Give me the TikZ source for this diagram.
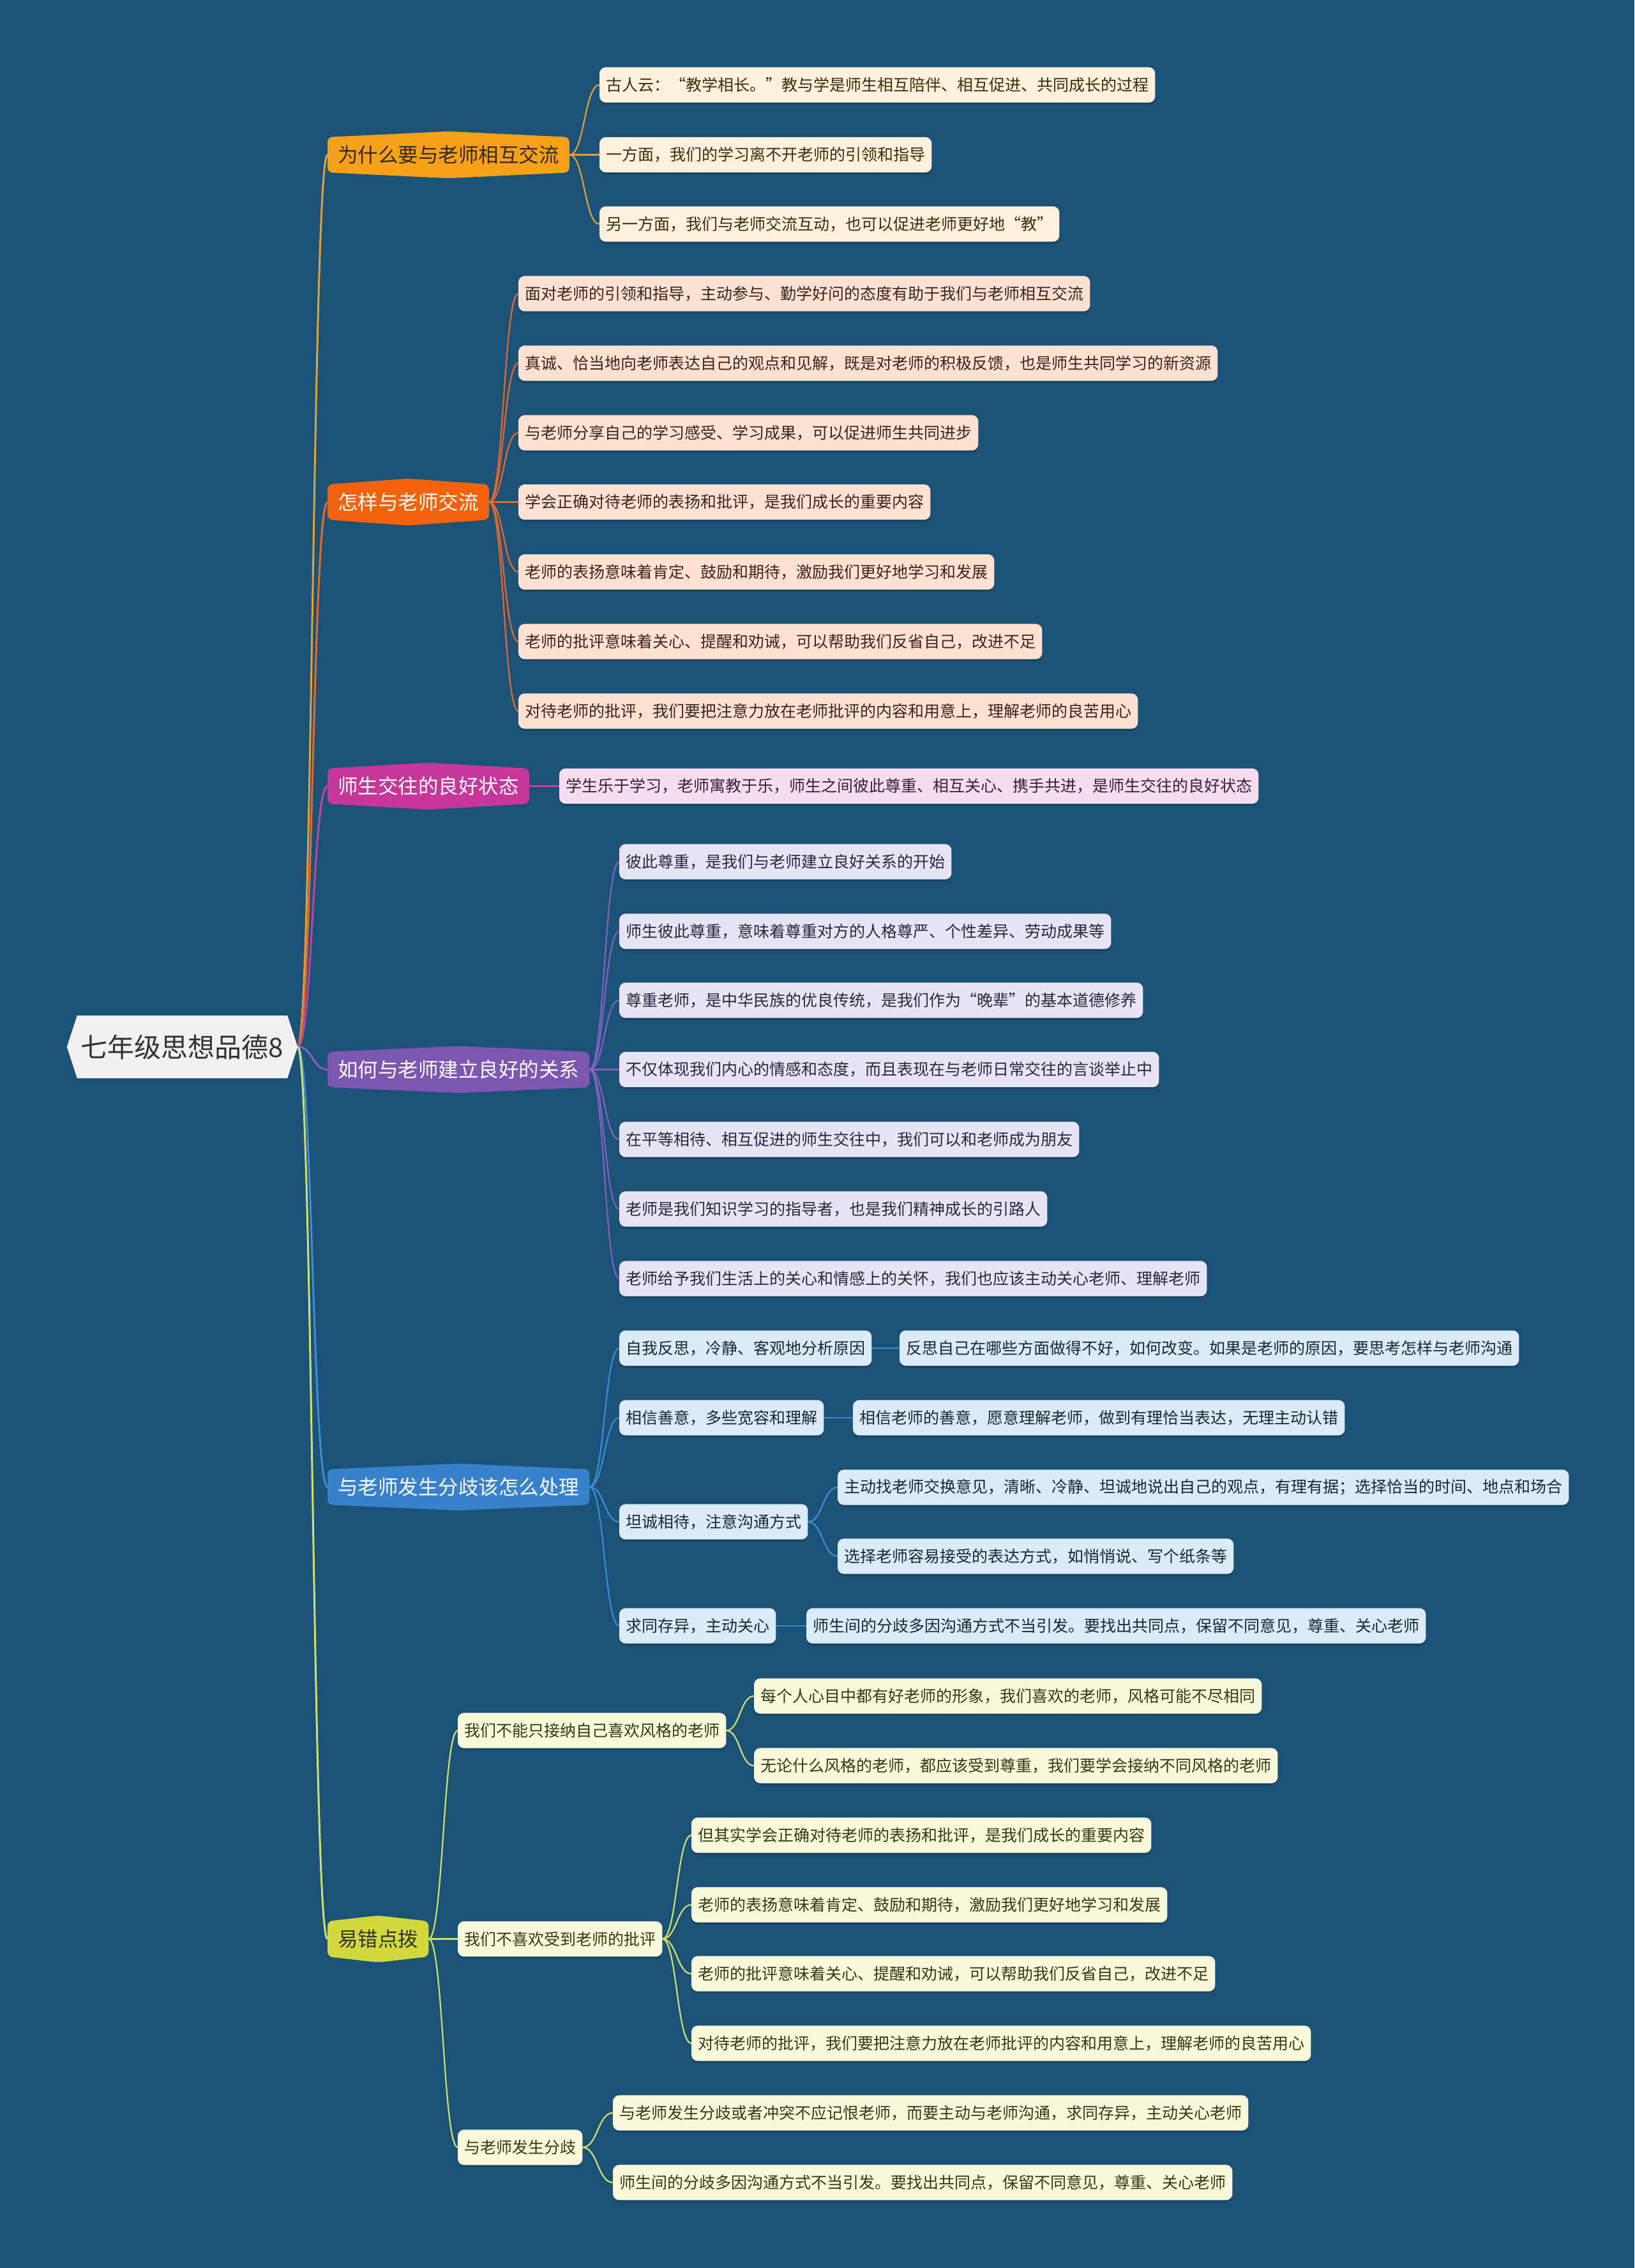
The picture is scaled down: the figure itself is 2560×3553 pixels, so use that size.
\documentclass[tikz,border=0pt]{standalone}
\usepackage{fontspec}
\newfontfamily\cjk{Noto Sans CJK SC}
\usetikzlibrary{calc}
\pgfdeclarelayer{bg}\pgfdeclarelayer{lines}\pgfdeclarelayer{boxes}
\pgfsetlayers{bg,lines,boxes,main}
\definecolor{pagebg}{HTML}{1A5377}
\definecolor{rootf}{HTML}{F1F1F1}
\definecolor{roott}{HTML}{333333}
% branch fills
\definecolor{bfA}{HTML}{F7A11A}\definecolor{bfB}{HTML}{F4630B}\definecolor{bfC}{HTML}{C7379A}
\definecolor{bfD}{HTML}{7D56B1}\definecolor{bfE}{HTML}{3882CB}\definecolor{bfF}{HTML}{D3D93C}
% line colours
\definecolor{lnA}{HTML}{E2A232}\definecolor{lnB}{HTML}{E8682A}\definecolor{lnC}{HTML}{BD45A0}
\definecolor{lnD}{HTML}{8660BF}\definecolor{lnE}{HTML}{3F8BD6}\definecolor{lnF}{HTML}{D4E065}
% leaf fills
\definecolor{lfA}{HTML}{FEF1DB}\definecolor{lfB}{HTML}{FDE2D2}\definecolor{lfC}{HTML}{F7DDF0}
\definecolor{lfD}{HTML}{E9E4F4}\definecolor{lfE}{HTML}{DDEBF7}\definecolor{lfF}{HTML}{F9F8DB}
% leaf text
\definecolor{ltA}{HTML}{3F2C0C}\definecolor{ltB}{HTML}{3B2418}\definecolor{ltC}{HTML}{3A2035}
\definecolor{ltD}{HTML}{2A2540}\definecolor{ltE}{HTML}{16283A}\definecolor{ltF}{HTML}{383812}
\definecolor{darkt}{HTML}{33291A}

\tikzset{
  lf/.style={anchor=west, minimum height=55, inner xsep=10, inner ysep=0,
    font=\cjk\fontsize{25}{30}\selectfont},
  br/.style={anchor=west, minimum height=55, inner xsep=16, inner ysep=0,
    font=\cjk\fontsize{31.5}{36}\selectfont},
}

\newcommand\leafnode[6]{% name, x, y, fill, text colour, text
  \node[lf, text=#5] (#1) at (#2,#3) {#6};
  \begin{pgfonlayer}{boxes}
    \fill[black, opacity=.18, rounded corners=10] ($(#1.south west)+(0,3)$) rectangle ($(#1.north east)+(0,3)$);
    \fill[#4, rounded corners=10] (#1.south west) rectangle (#1.north east);
  \end{pgfonlayer}}

\newcommand\branchnode[6]{% name, x, y, fill, text colour, text
  \node[br, text=#5] (#1) at (#2,#3) {#6};
  \begin{pgfonlayer}{boxes}
    \fill[#4, rounded corners=8] (#1.south west) -- (#1.north west) -- ($(#1.north)+(0,-9)$)
      -- (#1.north east) -- (#1.south east) -- ($(#1.south)+(0,9)$) -- cycle;
  \end{pgfonlayer}}

\newcommand\conn[4]{% colour, width, from, to
  \begin{pgfonlayer}{lines}
    \path ($(#3)!0.5!(#4)$) coordinate (cmid);
    \draw[#1, line width=#2] (#3) .. controls (cmid |- #3) and (cmid |- #4) .. (#4);
  \end{pgfonlayer}}

\begin{document}
\begin{tikzpicture}[x=1pt,y=-1pt]
\begin{pgfonlayer}{bg}
  \fill[pagebg] (0,0) rectangle (2560,3553);
\end{pgfonlayer}
\useasboundingbox (0,0) rectangle (2560,3553);

% root
\node[font=\cjk\fontsize{42}{48}\selectfont, text=roott, minimum width=329, minimum height=98, inner sep=0] (root) at (285.5,1640) {七年级思想品德8};
\begin{pgfonlayer}{boxes}
  \fill[rootf] ($(root.west)+(-16,0)$) -- (root.north west) -- (root.north east) -- ($(root.east)+(16,0)$) -- (root.south east) -- (root.south west) -- cycle;
\end{pgfonlayer}
\coordinate (rp) at ($(root.east)+(16,0)$);

% main branches
\branchnode{bA}{513}{242.5}{bfA}{darkt}{为什么要与老师相互交流}
\branchnode{bB}{513}{786.5}{bfB}{white}{怎样与老师交流}
\branchnode{bC}{513}{1231.5}{bfC}{white}{师生交往的良好状态}
\branchnode{bD}{513}{1675.5}{bfD}{white}{如何与老师建立良好的关系}
\branchnode{bE}{513}{2329.5}{bfE}{white}{与老师发生分歧该怎么处理}
\branchnode{bF}{513}{3037.5}{bfF}{roott}{易错点拨}

\conn{lnA}{3}{rp}{bA.west}
\conn{lnB}{3}{rp}{bB.west}
\conn{lnC}{3}{rp}{bC.west}
\conn{lnD}{3}{rp}{bD.west}
\conn{lnE}{3}{rp}{bE.west}
\conn{lnF}{3}{rp}{bF.west}

% branch A
\leafnode{a1}{939}{133}{lfA}{ltA}{古人云：“教学相长。”教与学是师生相互陪伴、相互促进、共同成长的过程}
\leafnode{a2}{939}{242.5}{lfA}{ltA}{一方面，我们的学习离不开老师的引领和指导}
\leafnode{a3}{939}{351}{lfA}{ltA}{另一方面，我们与老师交流互动，也可以促进老师更好地“教”}
\foreach \n in {a1,a2,a3} {\conn{lnA}{2.2}{bA.east}{\n.west}}

% branch B
\leafnode{b1}{812}{460}{lfB}{ltB}{面对老师的引领和指导，主动参与、勤学好问的态度有助于我们与老师相互交流}
\leafnode{b2}{812}{569}{lfB}{ltB}{真诚、恰当地向老师表达自己的观点和见解，既是对老师的积极反馈，也是师生共同学习的新资源}
\leafnode{b3}{812}{678}{lfB}{ltB}{与老师分享自己的学习感受、学习成果，可以促进师生共同进步}
\leafnode{b4}{812}{786.5}{lfB}{ltB}{学会正确对待老师的表扬和批评，是我们成长的重要内容}
\leafnode{b5}{812}{896}{lfB}{ltB}{老师的表扬意味着肯定、鼓励和期待，激励我们更好地学习和发展}
\leafnode{b6}{812}{1005}{lfB}{ltB}{老师的批评意味着关心、提醒和劝诫，可以帮助我们反省自己，改进不足}
\leafnode{b7}{812}{1114}{lfB}{ltB}{对待老师的批评，我们要把注意力放在老师批评的内容和用意上，理解老师的良苦用心}
\foreach \n in {b1,b2,b3,b4,b5,b6,b7} {\conn{lnB}{2.2}{bB.east}{\n.west}}

% branch C
\leafnode{c1}{876}{1231.5}{lfC}{ltC}{学生乐于学习，老师寓教于乐，师生之间彼此尊重、相互关心、携手共进，是师生交往的良好状态}
\conn{lnC}{2.2}{bC.east}{c1.west}

% branch D
\leafnode{d1}{970}{1350}{lfD}{ltD}{彼此尊重，是我们与老师建立良好关系的开始}
\leafnode{d2}{970}{1459}{lfD}{ltD}{师生彼此尊重，意味着尊重对方的人格尊严、个性差异、劳动成果等}
\leafnode{d3}{970}{1567}{lfD}{ltD}{尊重老师，是中华民族的优良传统，是我们作为“晚辈”的基本道德修养}
\leafnode{d4}{970}{1675.5}{lfD}{ltD}{不仅体现我们内心的情感和态度，而且表现在与老师日常交往的言谈举止中}
\leafnode{d5}{970}{1785}{lfD}{ltD}{在平等相待、相互促进的师生交往中，我们可以和老师成为朋友}
\leafnode{d6}{970}{1894}{lfD}{ltD}{老师是我们知识学习的指导者，也是我们精神成长的引路人}
\leafnode{d7}{970}{2003}{lfD}{ltD}{老师给予我们生活上的关心和情感上的关怀，我们也应该主动关心老师、理解老师}
\foreach \n in {d1,d2,d3,d4,d5,d6,d7} {\conn{lnD}{2.2}{bD.east}{\n.west}}

% branch E
\leafnode{e1}{970}{2112}{lfE}{ltE}{自我反思，冷静、客观地分析原因}
\leafnode{e2}{970}{2221}{lfE}{ltE}{相信善意，多些宽容和理解}
\leafnode{e3}{970}{2384}{lfE}{ltE}{坦诚相待，注意沟通方式}
\leafnode{e4}{970}{2547}{lfE}{ltE}{求同存异，主动关心}
\foreach \n in {e1,e2,e3,e4} {\conn{lnE}{2.2}{bE.east}{\n.west}}
\leafnode{e1a}{1409}{2112}{lfE}{ltE}{反思自己在哪些方面做得不好，如何改变。如果是老师的原因，要思考怎样与老师沟通}
\leafnode{e2a}{1336}{2221}{lfE}{ltE}{相信老师的善意，愿意理解老师，做到有理恰当表达，无理主动认错}
\leafnode{e3a}{1312}{2330}{lfE}{ltE}{主动找老师交换意见，清晰、冷静、坦诚地说出自己的观点，有理有据；选择恰当的时间、地点和场合}
\leafnode{e3b}{1312}{2438}{lfE}{ltE}{选择老师容易接受的表达方式，如悄悄说、写个纸条等}
\leafnode{e4a}{1263}{2547}{lfE}{ltE}{师生间的分歧多因沟通方式不当引发。要找出共同点，保留不同意见，尊重、关心老师}
\conn{lnE}{2.2}{e1.east}{e1a.west}
\conn{lnE}{2.2}{e2.east}{e2a.west}
\conn{lnE}{2.2}{e3.east}{e3a.west}
\conn{lnE}{2.2}{e3.east}{e3b.west}
\conn{lnE}{2.2}{e4.east}{e4a.west}

% branch F
\leafnode{f1}{717}{2711}{lfF}{ltF}{我们不能只接纳自己喜欢风格的老师}
\leafnode{f2}{717}{3037.5}{lfF}{ltF}{我们不喜欢受到老师的批评}
\leafnode{f3}{717}{3364}{lfF}{ltF}{与老师发生分歧}
\foreach \n in {f1,f2,f3} {\conn{lnF}{2.2}{bF.east}{\n.west}}
\leafnode{f1a}{1181}{2657}{lfF}{ltF}{每个人心目中都有好老师的形象，我们喜欢的老师，风格可能不尽相同}
\leafnode{f1b}{1181}{2766}{lfF}{ltF}{无论什么风格的老师，都应该受到尊重，我们要学会接纳不同风格的老师}
\leafnode{f2a}{1083}{2875}{lfF}{ltF}{但其实学会正确对待老师的表扬和批评，是我们成长的重要内容}
\leafnode{f2b}{1083}{2984}{lfF}{ltF}{老师的表扬意味着肯定、鼓励和期待，激励我们更好地学习和发展}
\leafnode{f2c}{1083}{3092}{lfF}{ltF}{老师的批评意味着关心、提醒和劝诫，可以帮助我们反省自己，改进不足}
\leafnode{f2d}{1083}{3201}{lfF}{ltF}{对待老师的批评，我们要把注意力放在老师批评的内容和用意上，理解老师的良苦用心}
\leafnode{f3a}{960}{3310}{lfF}{ltF}{与老师发生分歧或者冲突不应记恨老师，而要主动与老师沟通，求同存异，主动关心老师}
\leafnode{f3b}{960}{3419}{lfF}{ltF}{师生间的分歧多因沟通方式不当引发。要找出共同点，保留不同意见，尊重、关心老师}
\foreach \n in {f1a,f1b} {\conn{lnF}{2.2}{f1.east}{\n.west}}
\foreach \n in {f2a,f2b,f2c,f2d} {\conn{lnF}{2.2}{f2.east}{\n.west}}
\foreach \n in {f3a,f3b} {\conn{lnF}{2.2}{f3.east}{\n.west}}
\end{tikzpicture}
\end{document}
